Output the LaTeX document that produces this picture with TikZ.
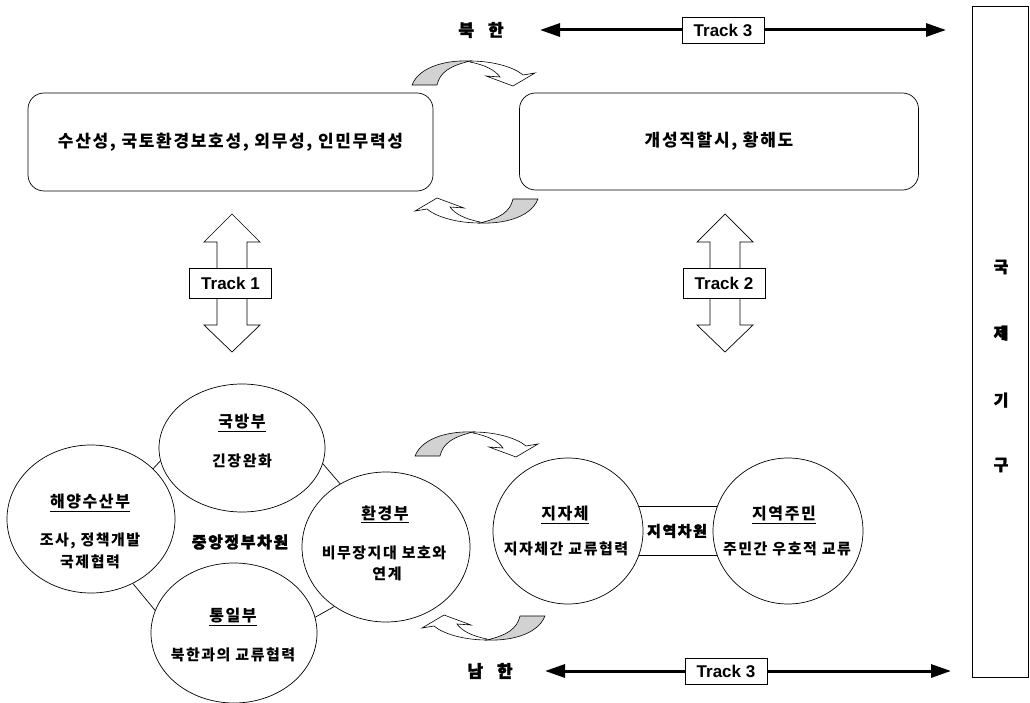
\documentclass[tikz,border=0pt]{standalone}
\usepackage{fontspec}
\setmainfont{Liberation Sans}
\newfontfamily\kr[LetterSpace=10]{Noto Sans CJK KR}
\newfontfamily\krh[LetterSpace=10,FakeBold=2]{Noto Sans CJK KR}
\usetikzlibrary{shapes.geometric,arrows.meta}
\begin{document}
\begin{tikzpicture}[x=1pt,y=-1pt,line width=0.7pt,
  rbox/.style={draw,rounded corners=16pt,inner sep=0pt},
  circ/.style={draw,ellipse,fill=white,inner sep=0pt},
  trk/.style={draw,fill=white,inner sep=0pt,minimum width=82pt,minimum height=#1,font=\bfseries\fontsize{17}{20}\selectfont},
  trk/.default=28pt,
  ktext/.style={font=\kr\bfseries\fontsize{17}{20}\selectfont},
  ctitle/.style={font=\kr\bfseries\fontsize{16}{19}\selectfont},
  cbody/.style={font=\kr\bfseries\fontsize{15}{18}\selectfont},
  kbold/.style={font=\krh\bfseries\fontsize{16}{19}\selectfont},
  tarrow/.style={line width=3pt,-{Triangle[length=20pt,width=13pt]}},
  carrow/.pic={
    \filldraw[fill=gray!35,line width=0.6pt] (-62,12) .. controls (-54,-8) and (-24,-13) .. (-4,-12)
       .. controls (-24,-7) and (-34,-1) .. (-37,12) -- cycle;
    \filldraw[fill=white,line width=0.6pt] (-4,-12) .. controls (21,-12) and (41,-5) .. (49,2)
       -- (61,0) -- (39,13) -- (12,3) -- (26,4) .. controls (21,-3) and (11,-8) .. (-4,-11) -- cycle;
  },
  dblarrow/.pic={
    \filldraw[fill=white,line width=0.7pt] (0,-69) -- (28,-41) -- (15,-41) -- (15,42) -- (28,42) -- (0,69)
      -- (-28,42) -- (-15,42) -- (-15,-41) -- (-28,-41) -- cycle;
  }
]
\useasboundingbox (0,0) rectangle (1030,703);

% North / South labels and Track 3 arrows
\node[kbold,font=\krh\bfseries\fontsize{17}{20}\selectfont] (bk) at (481,30) {북\hspace{14pt}한};
\node[trk=26pt] (t3a) at (723,30) {Track 3};
\coordinate (t3al) at (540,30);
\coordinate (t3ar) at (946,30);
\draw[tarrow] (t3a.west) -- (t3al);
\draw[tarrow] (t3a.east) -- (t3ar);

\node[kbold,font=\krh\bfseries\fontsize{17}{20}\selectfont] (nh) at (490,671) {남\hspace{14pt}한};
\node[trk=26pt] (t3b) at (726,671) {Track 3};
\coordinate (t3bl) at (545,671);
\coordinate (t3br) at (951,671);
\draw[tarrow] (t3b.west) -- (t3bl);
\draw[tarrow] (t3b.east) -- (t3br);

% International organisations
\node[draw,minimum width=56pt,minimum height=671pt,inner sep=0pt] (ig) at (1000,341.5) {};
\node[kbold] (ig1) at (1001,267) {국};
\node[kbold] (ig2) at (1001,333) {제};
\node[kbold] (ig3) at (1001,400) {기};
\node[kbold] (ig4) at (1001,465) {구};

% North Korea boxes
\node[rbox,minimum width=405pt,minimum height=98pt,ktext] (nl) at (230.5,142) {수산성, 국토환경보호성, 외무성, 인민무력성};
\node[rbox,minimum width=399pt,minimum height=97pt,ktext] (nr) at (719,141.5) {개성직할시, 황해도};

% curved arrows
\pic at (474,73) {carrow};
\pic[rotate=180] at (476,211) {carrow};
\pic at (477,444) {carrow};
\pic[rotate=180] at (483,628) {carrow};

% Track 1 / Track 2
\pic at (232,283) {dblarrow};
\node[trk=30pt] (t1) at (230.5,283) {Track 1};
\pic at (725,283) {dblarrow};
\node[trk=30pt] (t2) at (724,283) {Track 2};

% central government circles
\node[circ,minimum width=166pt,minimum height=128pt] (gb) at (242,448) {};
\node[circ,minimum width=168pt,minimum height=148pt] (hy) at (91,519) {};
\node[circ,minimum width=168pt,minimum height=150pt] (hk) at (386,547) {};
\node[circ,minimum width=166pt,minimum height=140pt] (ty) at (234,633) {};
\draw (hy.39) -- (gb.189);
\draw (gb.349) -- (hk.126);
\draw (hy.303) -- (ty.164);
\draw (ty.11) -- (hk.229);

\node[ctitle] (gbt) at (242,423) {\underline{국방부}};
\node[cbody] (gbb) at (242,461) {긴장완화};
\node[ctitle] (hyt) at (90,503) {\underline{해양수산부}};
\node[cbody] (hyb1) at (90,541) {조사, 정책개발};
\node[cbody] (hyb2) at (90,562) {국제협력};
\node[ctitle] (hkt) at (385,514) {\underline{환경부}};
\node[cbody] (hkb1) at (384,553) {비무장지대 보호와};
\node[cbody] (hkb2) at (387,574) {연계};
\node[ctitle] (tyt) at (233,617) {\underline{통일부}};
\node[cbody] (tyb) at (233,655) {북한과의 교류협력};
\node[kbold] (cg) at (240,542) {중앙정부차원};

% local level
\node[circ,minimum width=150pt,minimum height=146pt] (jj) at (568,531) {};
\node[circ,minimum width=150pt,minimum height=146pt] (jm) at (788,531) {};
\draw (jj.19) -- (jm.161);
\draw (jj.341) -- (jm.199);
\node[kbold,font=\krh\bfseries\fontsize{15}{18}\selectfont] (jy) at (677,531) {지역차원};
\node[ctitle] (jjt) at (565,515) {\underline{지자체}};
\node[cbody] (jjb) at (566,549) {지자체간 교류협력};
\node[ctitle] (jmt) at (784,515) {\underline{지역주민}};
\node[cbody] (jmb) at (787,549) {주민간 우호적 교류};
\end{tikzpicture}
\end{document}
